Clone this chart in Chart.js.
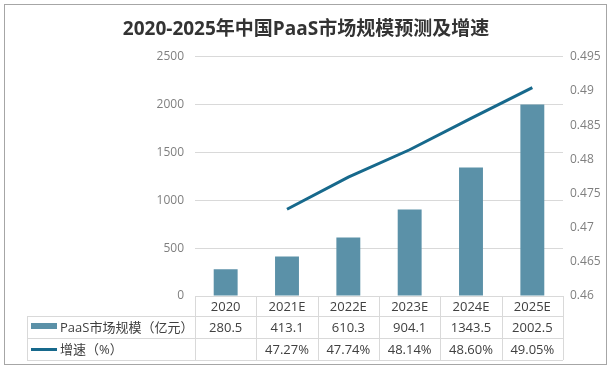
<!DOCTYPE html>
<html>
<head>
<meta charset="utf-8">
<script src="https://cdn.jsdelivr.net/npm/chart.js@4/dist/chart.umd.min.js"></script>
<style>
    html, body { margin: 0; padding: 0; background: #fff; }
    #wrap { position: relative; width: 612px; height: 370px; }
    #frame { position: absolute; left: 4px; top: 4px; width: 603px; height: 361px; border: 1px solid #a6a6a6; box-sizing: border-box; pointer-events: none; }
</style>
</head>
<body>
<div id="wrap">
    <canvas id="chart" width="612" height="370"></canvas>
    <div id="frame"></div>
</div>
<script>
const categories = ['2020', '2021E', '2022E', '2023E', '2024E', '2025E'];
const marketSize = [280.5, 413.1, 610.3, 904.1, 1343.5, 2002.5];
const growthRate = [null, 0.4727, 0.4774, 0.4814, 0.4860, 0.4905];
const marketLabels = ['280.5', '413.1', '610.3', '904.1', '1343.5', '2002.5'];
const growthLabels = ['', '47.27%', '47.74%', '48.14%', '48.60%', '49.05%'];
const leftTicks = [0, 500, 1000, 1500, 2000, 2500];
const rightTicks = [0.46, 0.465, 0.47, 0.475, 0.48, 0.485, 0.49, 0.495];

const FONT = '"Open Sans", "Noto Sans CJK SC", sans-serif';
const BAR_COLOR = '#5b91a8';
const LINE_COLOR = '#17698c';
const GRID_COLOR = '#d9d9d9';
const TEXT_COLOR = '#404040';
const TICK_COLOR = '#7f7f7f';

// data table under the plot, columns follow the x scale
const dataTable = {
    id: 'dataTable',
    afterDraw(chart) {
        const { ctx, chartArea, scales } = chart;
        const x = scales.x;
        const left = 27;
        const top = chartArea.bottom;
        const rowH = [20, 22, 22];
        const y1 = top + rowH[0];
        const y2 = y1 + rowH[1];
        const y3 = y2 + rowH[2];
        const step = (chartArea.right - chartArea.left) / categories.length;

        ctx.save();
        ctx.strokeStyle = GRID_COLOR;
        ctx.lineWidth = 1;
        ctx.beginPath();
        [y1, y2, y3].forEach((y) => {
            ctx.moveTo(left, y + 0.5);
            ctx.lineTo(chartArea.right, y + 0.5);
        });
        ctx.moveTo(left + 0.5, y1);
        ctx.lineTo(left + 0.5, y3);
        for (let i = 0; i <= categories.length; i++) {
            const cx = Math.round(chartArea.left + i * step) + 0.5;
            ctx.moveTo(cx, top);
            ctx.lineTo(cx, y3);
        }
        ctx.stroke();

        ctx.font = '13px ' + FONT;
        ctx.fillStyle = TEXT_COLOR;
        ctx.textAlign = 'center';
        ctx.textBaseline = 'middle';
        categories.forEach((c, i) => {
            const cx = x.getPixelForValue(i);
            ctx.fillText(marketLabels[i], cx, (y1 + y2) / 2 + 1);
            ctx.fillText(growthLabels[i], cx, (y2 + y3) / 2 + 1);
        });

        // legend keys
        ctx.fillStyle = BAR_COLOR;
        ctx.fillRect(31, y1 + 7, 26, 6);
        ctx.strokeStyle = LINE_COLOR;
        ctx.lineWidth = 3;
        ctx.beginPath();
        ctx.moveTo(31, (y2 + y3) / 2 + 0.5);
        ctx.lineTo(57, (y2 + y3) / 2 + 0.5);
        ctx.stroke();

        ctx.fillStyle = TEXT_COLOR;
        ctx.textAlign = 'left';
        ctx.fillText('PaaS市场规模（亿元）', 60, (y1 + y2) / 2 + 1);
        ctx.fillText('增速（%）', 60, (y2 + y3) / 2 + 1);
        ctx.restore();
    }
};

new Chart(document.getElementById('chart'), {
    type: 'bar',
    data: {
        labels: categories,
        datasets: [
            {
                type: 'line',
                label: '增速（%）',
                data: growthRate,
                yAxisID: 'y1',
                borderColor: LINE_COLOR,
                backgroundColor: LINE_COLOR,
                borderWidth: 3,
                pointRadius: 0,
                tension: 0,
                order: 0
            },
            {
                label: 'PaaS市场规模（亿元）',
                data: marketSize,
                yAxisID: 'y',
                backgroundColor: BAR_COLOR,
                barPercentage: 0.39,
                categoryPercentage: 1,
                order: 1
            }
        ]
    },
    options: {
        responsive: false,
        animation: false,
        layout: { padding: { left: 0, right: 0, top: 0, bottom: 0 } },
        plugins: {
            legend: { display: false },
            tooltip: { enabled: false },
            title: {
                display: true,
                text: '2020-2025年中国PaaS市场规模预测及增速',
                color: '#333333',
                font: { size: 19, weight: 'bold', family: FONT },
                padding: { top: 18, bottom: 16 }
            }
        },
        scales: {
            x: {
                grid: { display: false, drawTicks: false },
                border: { display: false },
                ticks: { color: TEXT_COLOR, font: { size: 13, family: FONT }, padding: 3 },
                afterFit: (scale) => { scale.height = 74; }
            },
            y: {
                position: 'left',
                min: 0,
                max: 2500,
                afterBuildTicks: (scale) => { scale.ticks = leftTicks.map((v) => ({ value: v })); },
                grid: { color: GRID_COLOR, drawTicks: false },
                border: { display: false },
                ticks: { color: TICK_COLOR, font: { size: 12, family: FONT }, padding: 11, callback: (v) => String(v) },
                afterFit: (scale) => { scale.width = 195; }
            },
            y1: {
                position: 'right',
                min: 0.46,
                max: 0.495,
                afterBuildTicks: (scale) => { scale.ticks = rightTicks.map((v) => ({ value: v })); },
                grid: { display: false, drawTicks: false },
                border: { display: false },
                ticks: { color: TICK_COLOR, font: { size: 12, family: FONT }, padding: 7, callback: (v) => String(v) },
                afterFit: (scale) => { scale.width = 49; }
            }
        }
    },
    plugins: [dataTable]
});
</script>
</body>
</html>
